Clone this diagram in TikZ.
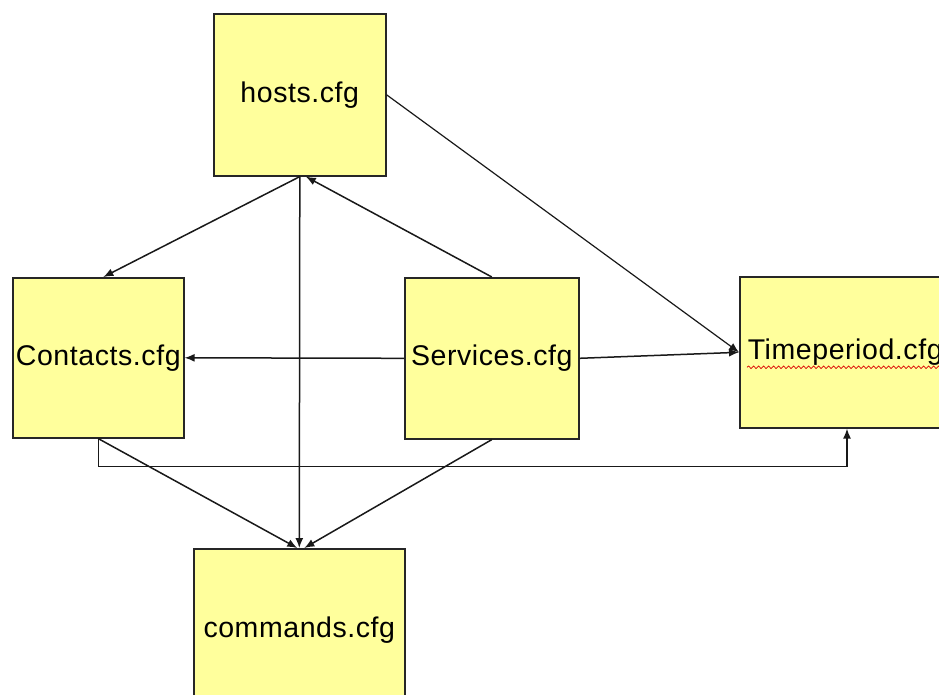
\documentclass[tikz,border=0pt]{standalone}
\usepackage{fontspec}
\setmainfont{Liberation Sans}[LetterSpace=2]
\usetikzlibrary{arrows.meta,decorations.pathmorphing,calc}
\begin{document}
\begin{tikzpicture}[x=1pt,y=-1pt,
  cfgbox/.style={draw=black!85,line width=1.6pt,fill=cfgyellow,rectangle,inner sep=0pt,
    font=\fontsize{28.5}{34}\selectfont,anchor=north west},
  link/.style={draw=black!90,line width=1.5pt,-{Latex[length=10pt,width=8pt]}}]
\definecolor{cfgyellow}{HTML}{FFFF9C}
\useasboundingbox (0,0) rectangle (939,695);
\fill[white] (0,0) rectangle (939,695);
\clip (0,0) rectangle (939,695);
\node[cfgbox,minimum width=172pt,minimum height=162pt] (hosts) at (213,13) {hosts.cfg};
\node[cfgbox,minimum width=171pt,minimum height=160pt] (contacts) at (12,277) {Contacts.cfg};
\node[cfgbox,minimum width=174pt,minimum height=161pt] (services) at (404,277) {Services.cfg};
\node[cfgbox,minimum width=230pt,minimum height=151pt,text width=214pt,inner xsep=8pt,align=left] (timeperiod) at (739,276) {Timeperiod.cfg};
\node[cfgbox,minimum width=211pt,minimum height=162pt] (commands) at (193,548) {commands.cfg};
% spell-check squiggle
\coordinate (sqa) at ($(timeperiod.west)+(8,15)$);
\draw[red!85!black,line width=0.7pt,decorate,decoration={snake,amplitude=1.3pt,segment length=5pt}] (sqa) -- ++(200,0);
% connectors
\draw[link] (hosts.south) -- ([xshift=5pt]contacts.north);
\draw[link] (services.north) -- ([xshift=6pt]hosts.south);
\draw[link] (hosts.south) -- (commands.north);
\draw[link] (services.west) -- (contacts.east);
\draw[link] (services.east) -- (timeperiod.west);
\draw[link,line width=1.2pt] (hosts.east) -- (timeperiod.west);
\coordinate (tpin) at ([xshift=108pt]timeperiod.south west);
\draw[link] (contacts.south) -- ++(0,28) -| (tpin);
\draw[link] (contacts.south) -- ([xshift=-2pt]commands.north);
\draw[link] (services.south) -- ([xshift=5pt]commands.north);
\end{tikzpicture}
\end{document}
